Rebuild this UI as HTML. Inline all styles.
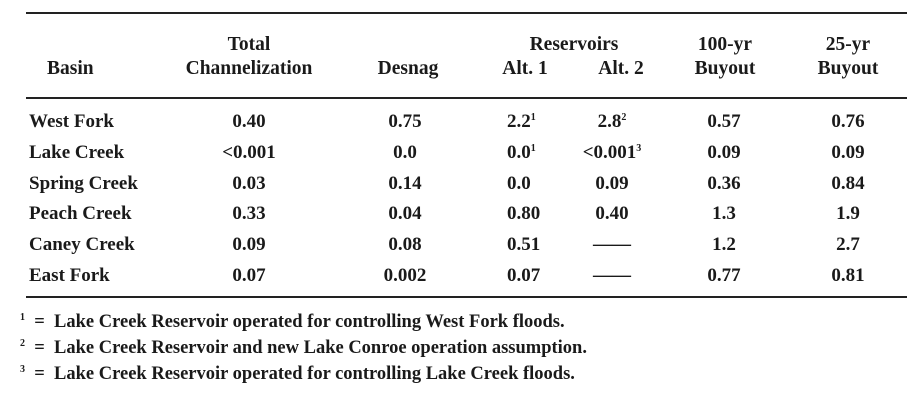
<!DOCTYPE html>
<html><head><meta charset="utf-8"><style>
body{margin:0;width:923px;height:404px;background:#fff;position:relative;overflow:hidden;font-family:"Liberation Serif",serif;color:#1a1a1a}
.t{position:absolute;font-size:19px;font-weight:bold;white-space:nowrap;line-height:20px}
.h{font-weight:bold;font-size:19.5px}
.c{transform:translateX(-50%)}
.rule{position:absolute;left:26px;width:881px;background:#222}
sup{font-size:10px;vertical-align:7px;line-height:0}
.f{position:absolute;font-size:18.5px;font-weight:bold;white-space:nowrap;line-height:20px}
</style></head><body>
<div class="rule" style="top:12px;height:2px"></div>
<div class="rule" style="top:97px;height:2px"></div>
<div class="rule" style="top:296px;height:2px"></div>

<div class="t h" style="left:47px;top:59px">Basin</div>
<div class="t h c" style="left:249px;top:35px">Total</div>
<div class="t h c" style="left:249px;top:59px">Channelization</div>
<div class="t h c" style="left:408px;top:59px">Desnag</div>
<div class="t h c" style="left:574px;top:35px">Reservoirs</div>
<div class="t h c" style="left:525px;top:59px">Alt. 1</div>
<div class="t h c" style="left:621px;top:59px">Alt. 2</div>
<div class="t h c" style="left:725px;top:35px">100-yr</div>
<div class="t h c" style="left:725px;top:59px">Buyout</div>
<div class="t h c" style="left:848px;top:35px">25-yr</div>
<div class="t h c" style="left:848px;top:59px">Buyout</div>

<div id="rows"></div>

<div class="f" style="left:20px;top:312px"><sup>1</sup>&nbsp;&nbsp;=&nbsp;&nbsp;Lake Creek Reservoir operated for controlling West Fork floods.</div>
<div class="f" style="left:20px;top:338px"><sup>2</sup>&nbsp;&nbsp;=&nbsp;&nbsp;Lake Creek Reservoir and new Lake Conroe operation assumption.</div>
<div class="f" style="left:20px;top:364px"><sup>3</sup>&nbsp;&nbsp;=&nbsp;&nbsp;Lake Creek Reservoir operated for controlling Lake Creek floods.</div>

<script>
const basins=["West Fork","Lake Creek","Spring Creek","Peach Creek","Caney Creek","East Fork"];
const total=["0.40","<0.001","0.03","0.33","0.09","0.07"];
const desnag=["0.75","0.0","0.14","0.04","0.08","0.002"];
const alt1=["2.2<sup>1</sup>","0.0<sup>1</sup>","0.0","0.80","0.51","0.07"];
const alt2=["2.8<sup>2</sup>","&lt;0.001<sup>3</sup>","0.09","0.40","——","——"];
const buy100=["0.57","0.09","0.36","1.3","1.2","0.77"];
const buy25=["0.76","0.09","0.84","1.9","2.7","0.81"];
const cols=[[total,249,"total",1],[desnag,405,"desnag",1],[alt1,507,"alt1",0],[alt2,612,"alt2",1],[buy100,724,"buyout-100yr",1],[buy25,848,"buyout-25yr",1]];
const root=document.getElementById('rows');
basins.forEach((b,i)=>{
  const y=112+i*30.8;
  const d=document.createElement('div');
  d.className='t';d.style.left='29px';d.style.top=y+'px';d.textContent=b;
  
  
  root.appendChild(d);
  cols.forEach(([arr,x,n,centered])=>{
    const e=document.createElement('div');
    e.className=centered?'t c':'t';e.style.left=x+'px';e.style.top=y+'px';
    e.innerHTML=arr[i].replace(/^<0/,'&lt;0');
    
    
    root.appendChild(e);
  });
});
</script>
</body></html>
